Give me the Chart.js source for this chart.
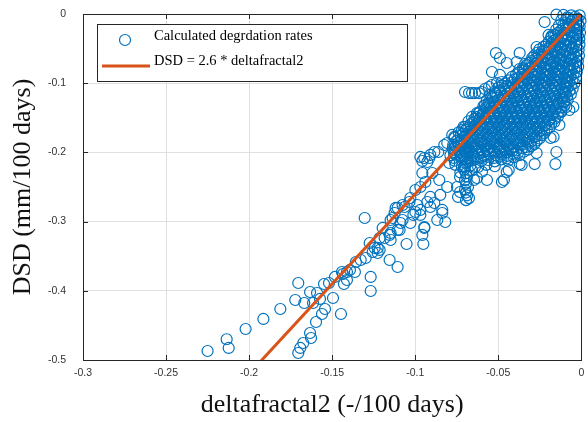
<!DOCTYPE html>
<html>
<head>
<meta charset="utf-8">
<title>DSD vs deltafractal2</title>
<script src="https://cdn.jsdelivr.net/npm/chart.js@4/dist/chart.umd.min.js"></script>
<style>
  html, body { margin: 0; padding: 0; background: #fff; }
  canvas { display: block; }
</style>
</head>
<body>
<canvas id="rateChart" width="588" height="422"></canvas>
<script>
// Axis ticks
const xTicks = [-0.3, -0.25, -0.2, -0.15, -0.1, -0.05, 0];
const xTickLabels = ['-0.3', '-0.25', '-0.2', '-0.15', '-0.1', '-0.05', '0'];
const yTicks = [-0.5, -0.4, -0.3, -0.2, -0.1, 0];
const yTickLabels = ['-0.5', '-0.4', '-0.3', '-0.2', '-0.1', '0'];

// Fitted relation DSD = 2.6 * deltafractal2
const fitSlope = 2.6;
const fitRange = [-0.3, 0];

// Calculated degradation rates [deltafractal2, DSD]
// dense cloud close to the origin
const coreRates = [
  [-0.001,-0.002],[-0.0035,-0.004],[-0.006,-0.002],[-0.0085,-0.005],
  [-0.0005,-0.010],[-0.003,-0.012],[-0.0062,-0.011],[-0.0094,-0.013],[-0.012,-0.009],
  [-0.001,-0.018],[-0.0042,-0.020],[-0.0076,-0.019],[-0.0108,-0.021],[-0.0135,-0.017],
  [-0.0008,-0.027],[-0.0036,-0.029],[-0.0069,-0.026],[-0.0103,-0.028],[-0.0139,-0.027],[-0.0166,-0.030],
  [-0.0012,-0.036],[-0.0047,-0.034],[-0.0081,-0.037],[-0.0114,-0.035],[-0.0149,-0.036],[-0.0181,-0.034],
  [-0.0011,-0.044],[-0.0039,-0.042],[-0.0074,-0.045],[-0.0108,-0.043],[-0.0143,-0.044],[-0.0178,-0.042],[-0.0212,-0.045],
  [-0.0016,-0.052],[-0.0051,-0.050],[-0.0086,-0.053],[-0.0121,-0.051],[-0.0154,-0.052],[-0.0191,-0.050],[-0.0224,-0.053],[-0.0252,-0.051],
  [-0.0014,-0.060],[-0.0046,-0.058],[-0.0079,-0.061],[-0.0116,-0.059],[-0.0151,-0.060],[-0.0184,-0.058],[-0.0221,-0.061],[-0.0254,-0.059],[-0.0283,-0.060],
  [-0.0021,-0.068],[-0.0054,-0.066],[-0.0092,-0.069],[-0.0124,-0.067],[-0.0162,-0.068],[-0.0194,-0.066],[-0.0232,-0.069],[-0.0263,-0.067],[-0.0301,-0.068],
  [-0.0019,-0.076],[-0.0052,-0.074],[-0.0086,-0.077],[-0.0121,-0.075],[-0.0156,-0.076],[-0.0188,-0.074],[-0.0226,-0.077],[-0.0258,-0.075],[-0.0296,-0.076],[-0.0328,-0.074],[-0.0352,-0.078],
  [-0.0028,-0.084],[-0.0061,-0.082],[-0.0096,-0.085],[-0.0131,-0.083],[-0.0164,-0.084],[-0.0201,-0.082],[-0.0233,-0.085],[-0.0271,-0.083],[-0.0304,-0.084],[-0.0342,-0.082],[-0.0378,-0.085],
  [-0.0032,-0.092],[-0.0066,-0.090],[-0.0099,-0.093],[-0.0136,-0.091],[-0.0171,-0.092],[-0.0204,-0.090],[-0.0241,-0.093],[-0.0274,-0.091],[-0.0311,-0.092],[-0.0344,-0.090],[-0.0382,-0.093],[-0.0418,-0.091],
  [-0.0041,-0.100],[-0.0072,-0.098],[-0.0106,-0.101],[-0.0142,-0.099],[-0.0174,-0.100],[-0.0211,-0.098],[-0.0246,-0.101],[-0.0279,-0.099],[-0.0316,-0.100],[-0.0349,-0.098],[-0.0386,-0.101],[-0.0421,-0.099],[-0.0458,-0.100],
  [-0.0052,-0.108],[-0.0083,-0.106],[-0.0117,-0.109],[-0.0151,-0.107],[-0.0186,-0.108],[-0.0219,-0.106],[-0.0256,-0.109],[-0.0288,-0.107],[-0.0326,-0.108],[-0.0359,-0.106],[-0.0396,-0.109],[-0.0429,-0.107],[-0.0466,-0.108],[-0.0498,-0.106],
  [-0.0063,-0.116],[-0.0094,-0.114],[-0.0131,-0.117],[-0.0164,-0.115],[-0.0201,-0.116],[-0.0233,-0.114],[-0.0271,-0.117],[-0.0304,-0.115],[-0.0341,-0.116],[-0.0373,-0.114],[-0.0411,-0.117],[-0.0443,-0.115],[-0.0481,-0.116],[-0.0516,-0.114],[-0.0549,-0.117],
  [-0.0082,-0.124],[-0.0114,-0.122],[-0.0151,-0.125],[-0.0184,-0.123],[-0.0221,-0.124],[-0.0253,-0.122],[-0.0291,-0.125],[-0.0324,-0.123],[-0.0361,-0.124],[-0.0393,-0.122],[-0.0431,-0.125],[-0.0463,-0.123],[-0.0501,-0.124],[-0.0533,-0.122],[-0.0569,-0.125],
  [-0.0101,-0.132],[-0.0136,-0.130],[-0.0169,-0.133],[-0.0206,-0.131],[-0.0238,-0.132],[-0.0276,-0.130],[-0.0309,-0.133],[-0.0346,-0.131],[-0.0378,-0.132],[-0.0416,-0.130],[-0.0449,-0.133],[-0.0486,-0.131],[-0.0518,-0.132],[-0.0556,-0.130],[-0.0589,-0.133],
  [-0.0121,-0.140],[-0.0154,-0.138],[-0.0191,-0.141],[-0.0224,-0.139],[-0.0261,-0.140],[-0.0293,-0.138],[-0.0331,-0.141],[-0.0364,-0.139],[-0.0401,-0.140],[-0.0433,-0.138],[-0.0471,-0.141],[-0.0504,-0.139],[-0.0541,-0.140],[-0.0573,-0.138],[-0.0609,-0.141],
  [-0.0141,-0.148],[-0.0174,-0.146],[-0.0211,-0.149],[-0.0243,-0.147],[-0.0281,-0.148],[-0.0314,-0.146],[-0.0351,-0.149],[-0.0383,-0.147],[-0.0421,-0.148],[-0.0454,-0.146],[-0.0491,-0.149],[-0.0523,-0.147],[-0.0561,-0.148],[-0.0594,-0.146],[-0.0631,-0.149],
  [-0.0162,-0.156],[-0.0196,-0.154],[-0.0232,-0.157],[-0.0266,-0.155],[-0.0301,-0.156],[-0.0336,-0.154],[-0.0371,-0.157],[-0.0404,-0.155],[-0.0441,-0.156],[-0.0474,-0.154],[-0.0511,-0.157],[-0.0544,-0.155],[-0.0581,-0.156],[-0.0614,-0.154],[-0.0651,-0.157],[-0.0679,-0.155],
  [-0.0191,-0.164],[-0.0224,-0.162],[-0.0261,-0.165],[-0.0294,-0.163],[-0.0331,-0.164],[-0.0364,-0.162],[-0.0401,-0.165],[-0.0434,-0.163],[-0.0471,-0.164],[-0.0504,-0.162],[-0.0541,-0.165],[-0.0574,-0.163],[-0.0611,-0.164],[-0.0644,-0.162],[-0.0681,-0.165],[-0.0709,-0.163],
  [-0.0221,-0.172],[-0.0254,-0.170],[-0.0291,-0.173],[-0.0324,-0.171],[-0.0361,-0.172],[-0.0394,-0.170],[-0.0431,-0.173],[-0.0464,-0.171],[-0.0501,-0.172],[-0.0534,-0.170],[-0.0571,-0.173],[-0.0604,-0.171],[-0.0641,-0.172],[-0.0674,-0.170],[-0.0711,-0.173],[-0.0738,-0.171],
  [-0.0251,-0.180],[-0.0284,-0.178],[-0.0321,-0.181],[-0.0354,-0.179],[-0.0391,-0.180],[-0.0424,-0.178],[-0.0461,-0.181],[-0.0494,-0.179],[-0.0531,-0.180],[-0.0564,-0.178],[-0.0601,-0.181],[-0.0634,-0.179],[-0.0671,-0.180],[-0.0704,-0.178],[-0.0741,-0.181],[-0.0762,-0.179],
  [-0.0282,-0.188],[-0.0318,-0.186],[-0.0354,-0.189],[-0.0389,-0.187],[-0.0424,-0.188],[-0.0459,-0.186],[-0.0494,-0.189],[-0.0529,-0.187],[-0.0564,-0.188],[-0.0599,-0.186],[-0.0634,-0.189],[-0.0669,-0.187],[-0.0704,-0.188],[-0.0739,-0.186],[-0.0771,-0.189],
  [-0.0321,-0.196],[-0.0356,-0.194],[-0.0391,-0.197],[-0.0426,-0.195],[-0.0461,-0.196],[-0.0496,-0.194],[-0.0531,-0.197],[-0.0566,-0.195],[-0.0601,-0.196],[-0.0636,-0.194],[-0.0671,-0.197],[-0.0706,-0.195],[-0.0741,-0.196],[-0.0774,-0.194],
  [-0.0372,-0.204],[-0.0409,-0.202],[-0.0446,-0.205],[-0.0481,-0.203],[-0.0516,-0.204],[-0.0551,-0.202],[-0.0586,-0.205],[-0.0621,-0.203],[-0.0656,-0.204],[-0.0691,-0.202],[-0.0726,-0.205],[-0.0761,-0.203],[-0.0788,-0.204],
  [-0.0441,-0.212],[-0.0481,-0.210],[-0.0521,-0.213],[-0.0561,-0.211],[-0.0601,-0.212],[-0.0641,-0.210],[-0.0681,-0.213],[-0.0721,-0.211],[-0.0762,-0.212],
  [-0.0521,-0.220],[-0.0572,-0.218],[-0.0621,-0.221],[-0.0668,-0.219],[-0.0719,-0.220],[-0.0758,-0.218],
  [-0.0598,-0.228],[-0.0658,-0.226],[-0.0728,-0.229]
];

// more of the same cloud, sitting between the rows above
const coreRatesB = [
  [-0.0022,-0.007],[-0.0051,-0.0085],[-0.0078,-0.006],
  [-0.0018,-0.015],[-0.0047,-0.0165],[-0.0079,-0.014],[-0.0108,-0.016],
  [-0.0024,-0.023],[-0.0058,-0.0245],[-0.0091,-0.022],[-0.0122,-0.024],[-0.0151,-0.0225],
  [-0.0021,-0.031],[-0.0053,-0.0325],[-0.0087,-0.030],[-0.0121,-0.032],[-0.0156,-0.0305],[-0.0179,-0.032],
  [-0.0027,-0.039],[-0.0062,-0.0405],[-0.0096,-0.038],[-0.0131,-0.040],[-0.0164,-0.0385],[-0.0196,-0.040],
  [-0.0029,-0.047],[-0.0058,-0.0485],[-0.0093,-0.046],[-0.0126,-0.048],[-0.0161,-0.0465],[-0.0194,-0.048],[-0.0228,-0.0475],
  [-0.0031,-0.055],[-0.0064,-0.0565],[-0.0098,-0.054],[-0.0133,-0.056],[-0.0168,-0.0545],[-0.0203,-0.056],[-0.0237,-0.0545],[-0.0266,-0.056],
  [-0.0032,-0.063],[-0.0063,-0.0645],[-0.0097,-0.062],[-0.0133,-0.064],[-0.0169,-0.0625],[-0.0203,-0.064],[-0.0238,-0.0625],[-0.0271,-0.064],[-0.0296,-0.0635],
  [-0.0036,-0.071],[-0.0069,-0.0725],[-0.0104,-0.070],[-0.0139,-0.072],[-0.0173,-0.0705],[-0.0209,-0.072],[-0.0243,-0.0705],[-0.0278,-0.072],[-0.0312,-0.0705],[-0.0338,-0.072],
  [-0.0041,-0.079],[-0.0072,-0.0805],[-0.0106,-0.078],[-0.0142,-0.080],[-0.0176,-0.0785],[-0.0211,-0.080],[-0.0246,-0.0785],[-0.0281,-0.080],[-0.0316,-0.0785],[-0.0349,-0.080],[-0.0372,-0.0795],
  [-0.0047,-0.087],[-0.0081,-0.0885],[-0.0114,-0.086],[-0.0149,-0.088],[-0.0184,-0.0865],[-0.0219,-0.088],[-0.0254,-0.0865],[-0.0288,-0.088],[-0.0323,-0.0865],[-0.0358,-0.088],[-0.0393,-0.0875],
  [-0.0053,-0.095],[-0.0086,-0.0965],[-0.0121,-0.094],[-0.0156,-0.096],[-0.0189,-0.0945],[-0.0224,-0.096],[-0.0259,-0.0945],[-0.0294,-0.096],[-0.0329,-0.0945],[-0.0364,-0.096],[-0.0401,-0.0945],[-0.0437,-0.096],
  [-0.0062,-0.103],[-0.0094,-0.1045],[-0.0128,-0.102],[-0.0163,-0.104],[-0.0197,-0.1025],[-0.0233,-0.104],[-0.0268,-0.1025],[-0.0302,-0.104],[-0.0337,-0.1025],[-0.0372,-0.104],[-0.0408,-0.1025],[-0.0443,-0.104],[-0.0476,-0.1035],
  [-0.0071,-0.111],[-0.0106,-0.1125],[-0.0141,-0.110],[-0.0176,-0.112],[-0.0211,-0.1105],[-0.0246,-0.112],[-0.0281,-0.1105],[-0.0316,-0.112],[-0.0351,-0.1105],[-0.0386,-0.112],[-0.0421,-0.1105],[-0.0456,-0.112],[-0.0491,-0.1105],[-0.0522,-0.112],
  [-0.0086,-0.119],[-0.0121,-0.1205],[-0.0156,-0.118],[-0.0191,-0.120],[-0.0226,-0.1185],[-0.0261,-0.120],[-0.0296,-0.1185],[-0.0331,-0.120],[-0.0366,-0.1185],[-0.0401,-0.120],[-0.0436,-0.1185],[-0.0471,-0.120],[-0.0506,-0.1185],[-0.0541,-0.120],
  [-0.0104,-0.127],[-0.0139,-0.1285],[-0.0174,-0.126],[-0.0209,-0.128],[-0.0244,-0.1265],[-0.0279,-0.128],[-0.0314,-0.1265],[-0.0349,-0.128],[-0.0384,-0.1265],[-0.0419,-0.128],[-0.0454,-0.1265],[-0.0489,-0.128],[-0.0524,-0.1265],[-0.0558,-0.128],
  [-0.0121,-0.135],[-0.0156,-0.1365],[-0.0191,-0.134],[-0.0226,-0.136],[-0.0261,-0.1345],[-0.0296,-0.136],[-0.0331,-0.1345],[-0.0366,-0.136],[-0.0401,-0.1345],[-0.0436,-0.136],[-0.0471,-0.1345],[-0.0506,-0.136],[-0.0541,-0.1345],[-0.0576,-0.136],
  [-0.0138,-0.143],[-0.0173,-0.1445],[-0.0208,-0.142],[-0.0243,-0.144],[-0.0278,-0.1425],[-0.0313,-0.144],[-0.0348,-0.1425],[-0.0383,-0.144],[-0.0418,-0.1425],[-0.0453,-0.144],[-0.0488,-0.1425],[-0.0523,-0.144],[-0.0558,-0.1425],[-0.0593,-0.144],[-0.0618,-0.1435],
  [-0.0158,-0.151],[-0.0193,-0.1525],[-0.0228,-0.150],[-0.0263,-0.152],[-0.0298,-0.1505],[-0.0333,-0.152],[-0.0368,-0.1505],[-0.0403,-0.152],[-0.0438,-0.1505],[-0.0473,-0.152],[-0.0508,-0.1505],[-0.0543,-0.152],[-0.0578,-0.1505],[-0.0613,-0.152],[-0.0643,-0.1515],
  [-0.0181,-0.159],[-0.0216,-0.1605],[-0.0251,-0.158],[-0.0286,-0.160],[-0.0321,-0.1585],[-0.0356,-0.160],[-0.0391,-0.1585],[-0.0426,-0.160],[-0.0461,-0.1585],[-0.0496,-0.160],[-0.0531,-0.1585],[-0.0566,-0.160],[-0.0601,-0.1585],[-0.0636,-0.160],[-0.0668,-0.1595],
  [-0.0208,-0.167],[-0.0243,-0.1685],[-0.0278,-0.166],[-0.0313,-0.168],[-0.0348,-0.1665],[-0.0383,-0.168],[-0.0418,-0.1665],[-0.0453,-0.168],[-0.0488,-0.1665],[-0.0523,-0.168],[-0.0558,-0.1665],[-0.0593,-0.168],[-0.0628,-0.1665],[-0.0663,-0.168],[-0.0696,-0.1675],
  [-0.0238,-0.175],[-0.0273,-0.1765],[-0.0308,-0.174],[-0.0343,-0.176],[-0.0378,-0.1745],[-0.0413,-0.176],[-0.0448,-0.1745],[-0.0483,-0.176],[-0.0518,-0.1745],[-0.0553,-0.176],[-0.0588,-0.1745],[-0.0623,-0.176],[-0.0658,-0.1745],[-0.0693,-0.176],[-0.0726,-0.1755],
  [-0.0268,-0.183],[-0.0303,-0.1845],[-0.0338,-0.182],[-0.0373,-0.184],[-0.0408,-0.1825],[-0.0443,-0.184],[-0.0478,-0.1825],[-0.0513,-0.184],[-0.0548,-0.1825],[-0.0583,-0.184],[-0.0618,-0.1825],[-0.0653,-0.184],[-0.0688,-0.1825],[-0.0723,-0.184],[-0.0752,-0.1835],
  [-0.0302,-0.191],[-0.0337,-0.1925],[-0.0372,-0.190],[-0.0407,-0.192],[-0.0442,-0.1905],[-0.0477,-0.192],[-0.0512,-0.1905],[-0.0547,-0.192],[-0.0582,-0.1905],[-0.0617,-0.192],[-0.0652,-0.1905],[-0.0687,-0.192],[-0.0722,-0.1905],[-0.0756,-0.192],
  [-0.0346,-0.199],[-0.0381,-0.2005],[-0.0416,-0.198],[-0.0451,-0.200],[-0.0486,-0.1985],[-0.0521,-0.200],[-0.0556,-0.1985],[-0.0591,-0.200],[-0.0626,-0.1985],[-0.0661,-0.200],[-0.0696,-0.1985],[-0.0731,-0.200],[-0.0766,-0.1995],
  [-0.0406,-0.207],[-0.0446,-0.2085],[-0.0486,-0.206],[-0.0526,-0.208],[-0.0566,-0.2065],[-0.0606,-0.208],[-0.0646,-0.2065],[-0.0686,-0.208],[-0.0726,-0.2065],[-0.0768,-0.208]
];

// stray points above the fitted line
const armRates = [
  [-0.070,-0.1127],[-0.0676,-0.1142],[-0.0658,-0.1142],[-0.064,-0.1142],[-0.0616,-0.1142],
  [-0.0598,-0.1127],[-0.058,-0.1084],[-0.0556,-0.1055],[-0.0538,-0.1026],[-0.0508,-0.0997],
  [-0.0969,-0.2066],[-0.0945,-0.2081],[-0.0915,-0.2081],[-0.0909,-0.2037],[-0.0885,-0.1994],
  [-0.0957,-0.2124],[-0.0927,-0.2139],[-0.0861,-0.1994],
  [-0.0807,-0.1864],[-0.0777,-0.1748],[-0.0718,-0.1676],[-0.070,-0.1633],[-0.0658,-0.1488],
  [-0.0586,-0.1431],[-0.0628,-0.1431],[-0.058,-0.1315],[-0.055,-0.1315],
  [-0.0514,-0.0564],[-0.049,-0.0636],[-0.0449,-0.0708],[-0.0389,-0.0694],[-0.0371,-0.0564],
  [-0.0269,-0.0477],[-0.0221,-0.0116],[-0.0197,-0.0303],[-0.015,-0.001],[-0.0108,-0.0014],
  [-0.049,-0.0881],[-0.0538,-0.0838],[-0.0478,-0.0983]
];

// narrow vertical run near deltafractal2 = -0.07
const columnRates = [
  [-0.0694,-0.190],[-0.0700,-0.195],[-0.0688,-0.200],[-0.0706,-0.205],[-0.0694,-0.210],
  [-0.0688,-0.215],[-0.0700,-0.220],[-0.0706,-0.225],[-0.0694,-0.230],[-0.0688,-0.235],
  [-0.0700,-0.240],[-0.0694,-0.245],[-0.0682,-0.250],[-0.0700,-0.254],[-0.0694,-0.258],
  [-0.0688,-0.262],[-0.0676,-0.266],[-0.0694,-0.269]
];

// points below the cloud on the right-hand side
const edgeRates = [
  [-0.015,-0.1994],[-0.0156,-0.2168],[-0.0281,-0.2168],[-0.0371,-0.2168],[-0.0449,-0.2283],
  [-0.0269,-0.2009],[-0.0132,-0.1604],[-0.012,-0.1416],[-0.009,-0.1344],[-0.0072,-0.1387],
  [-0.0167,-0.1777],[-0.0185,-0.1792],[-0.0102,-0.1214],[-0.009,-0.0997],[-0.0359,-0.2182],
  [-0.0437,-0.2254],[-0.0466,-0.2399],[-0.0628,-0.237],[-0.0048,-0.1344]
];

// sparse tail towards the lower left
const tailRates = [
  [-0.225,-0.487],[-0.2135,-0.470],[-0.2123,-0.4826],[-0.2021,-0.4552],[-0.1914,-0.4407],
  [-0.1812,-0.4263],[-0.1704,-0.3887],[-0.1722,-0.4133],[-0.1668,-0.4176],[-0.1633,-0.4017],
  [-0.1591,-0.4032],[-0.1615,-0.4176],[-0.1573,-0.4118],[-0.1549,-0.3902],[-0.1519,-0.3887],
  [-0.1483,-0.380],[-0.1435,-0.3757],[-0.1495,-0.4104],[-0.1429,-0.3902],[-0.1411,-0.3844],
  [-0.1447,-0.4335],[-0.1543,-0.4263],[-0.1561,-0.4335],[-0.1597,-0.4451],[-0.1633,-0.461],
  [-0.1627,-0.4682],[-0.1674,-0.4754],[-0.1692,-0.4826],[-0.1704,-0.4899],
  [-0.1441,-0.3728],[-0.1411,-0.3728],[-0.1363,-0.3728],[-0.1357,-0.3584],[-0.1328,-0.3555],
  [-0.1298,-0.3526],[-0.1268,-0.380],[-0.1268,-0.4003],[-0.1393,-0.3699],
  [-0.1304,-0.2948],[-0.1274,-0.3309],[-0.1244,-0.3381],[-0.1214,-0.341],[-0.1226,-0.3454],
  [-0.1196,-0.3092],[-0.1184,-0.3237],[-0.1154,-0.3193],[-0.1148,-0.3266],[-0.1154,-0.3555],
  [-0.1106,-0.3656],[-0.1094,-0.3121],[-0.1088,-0.302],[-0.1118,-0.2803],[-0.1064,-0.2789],
  [-0.1052,-0.3324],[-0.1029,-0.302],[-0.1011,-0.2904],[-0.0987,-0.276],[-0.0969,-0.2904],
  [-0.0945,-0.3092],[-0.0951,-0.3324],[-0.0909,-0.2789],[-0.0837,-0.2876],[-0.0819,-0.3006],
  [-0.1214,-0.3237],[-0.1136,-0.2948],[-0.1106,-0.2803],[-0.0957,-0.3193],[-0.1106,-0.3121],
  [-0.1148,-0.3165],[-0.1226,-0.3381],[-0.1256,-0.3439],
  [-0.0825,-0.1893],[-0.0765,-0.1777],[-0.0736,-0.1907],[-0.0765,-0.2009],[-0.0795,-0.2153],
  [-0.0855,-0.2399],[-0.0897,-0.2298],[-0.0957,-0.2298],[-0.0939,-0.2428],[-0.0969,-0.250],
  [-0.0999,-0.2543],[-0.1029,-0.2659],[-0.1035,-0.2717],[-0.1076,-0.276],[-0.1124,-0.2876],
  [-0.1148,-0.2977],[-0.0969,-0.2832],[-0.0927,-0.2717],[-0.0885,-0.2731],[-0.0909,-0.2644],
  [-0.0849,-0.2615],[-0.0807,-0.250],[-0.0837,-0.2832],[-0.0945,-0.3078],[-0.1076,-0.2977],
  [-0.0867,-0.2977],[-0.0999,-0.2861],[-0.0748,-0.250],[-0.073,-0.2572],[-0.0646,-0.2399],
  [-0.064,-0.2211],[-0.0568,-0.2399],[-0.0478,-0.2428],[-0.0616,-0.2009],[-0.0706,-0.2211],
  [-0.073,-0.2355],[-0.0742,-0.2644]
];

const blue = '#0072BD';
const orange = '#D95319';
const axisColor = '#262626';
const serif = "'Liberation Serif', 'Times New Roman', serif";
const sans = "'Liberation Sans', Arial, sans-serif";

const allRates = [...coreRates, ...coreRatesB, ...armRates, ...columnRates, ...edgeRates, ...tailRates]
  .map(([x, y]) => ({ x: x, y: y }));
const fitLine = fitRange.map(x => ({ x: x, y: fitSlope * x }));

// box around the axes with inward tick marks on all four sides
const axesBox = {
  id: 'axesBox',
  afterDraw(chart) {
    const { ctx, chartArea: a, scales } = chart;
    const len = 5;
    ctx.save();
    ctx.strokeStyle = axisColor;
    ctx.lineWidth = 1;
    ctx.beginPath();
    scales.x.ticks.forEach(t => {
      const px = Math.round(scales.x.getPixelForValue(t.value)) + 0.5;
      ctx.moveTo(px, a.bottom); ctx.lineTo(px, a.bottom - len);
      ctx.moveTo(px, a.top); ctx.lineTo(px, a.top + len);
    });
    scales.y.ticks.forEach(t => {
      const py = Math.round(scales.y.getPixelForValue(t.value)) + 0.5;
      ctx.moveTo(a.left, py); ctx.lineTo(a.left + len, py);
      ctx.moveTo(a.right, py); ctx.lineTo(a.right - len, py);
    });
    ctx.stroke();
    ctx.strokeRect(Math.round(a.left) + 0.5, Math.round(a.top) + 0.5,
      Math.round(a.right - a.left), Math.round(a.bottom - a.top));
    ctx.restore();
  }
};

// legend box in the upper left corner of the axes
const boxLegend = {
  id: 'boxLegend',
  afterDraw(chart) {
    const ctx = chart.ctx;
    const [fitSet, rateSet] = chart.data.datasets;
    ctx.save();
    ctx.fillStyle = '#fff';
    ctx.fillRect(97, 24, 310, 57);
    ctx.strokeStyle = axisColor;
    ctx.lineWidth = 1;
    ctx.strokeRect(97.5, 24.5, 310, 57);

    ctx.strokeStyle = blue;
    ctx.lineWidth = 1.2;
    ctx.beginPath();
    ctx.arc(125, 40, 5.5, 0, Math.PI * 2);
    ctx.stroke();

    ctx.strokeStyle = orange;
    ctx.lineWidth = 3;
    ctx.beginPath();
    ctx.moveTo(102, 66);
    ctx.lineTo(150, 66);
    ctx.stroke();

    ctx.fillStyle = '#000';
    ctx.font = '14.5px ' + serif;
    ctx.textBaseline = 'middle';
    ctx.fillText(rateSet.label, 154, 36);
    ctx.fillText(fitSet.label, 154, 61);
    ctx.restore();
  }
};

// keep the plot area where the layout padding puts it
const noEdgePadding = s => {
  s.paddingLeft = 0; s.paddingRight = 0; s.paddingTop = 0; s.paddingBottom = 0;
};

const ctx = document.getElementById('rateChart').getContext('2d');
const chart = new Chart(ctx, {
  type: 'scatter',
  data: {
    datasets: [{
      label: 'DSD = 2.6 * deltafractal2',
      data: fitLine,
      showLine: true,
      borderColor: orange,
      borderWidth: 3,
      pointRadius: 0,
      clip: 0,
      order: 0
    }, {
      label: 'Calculated degrdation rates',
      data: allRates,
      pointStyle: 'circle',
      pointRadius: 5.5,
      borderWidth: 1.2,
      borderColor: blue,
      backgroundColor: 'rgba(0,0,0,0)',
      clip: false,
      order: 1
    }]
  },
  options: {
    responsive: false,
    animation: false,
    layout: { padding: { top: 14, right: 3, left: 0, bottom: 0 } },
    plugins: {
      legend: { display: false },
      tooltip: { enabled: false }
    },
    scales: {
      x: {
        type: 'linear',
        min: -0.3,
        max: 0,
        afterFit: s => { s.height = 62; noEdgePadding(s); },
        afterBuildTicks: s => { s.ticks = xTicks.map(v => ({ value: v })); },
        ticks: {
          callback: (v, i) => xTickLabels[i],
          color: '#333',
          font: { family: sans, size: 10.5 },
          padding: 7,
          maxRotation: 0
        },
        grid: { color: '#dfdfdf', drawTicks: false },
        border: { color: axisColor },
        title: {
          display: true,
          text: 'deltafractal2 (-/100 days)',
          color: '#111',
          font: { family: serif, size: 26 },
          padding: { top: 0, bottom: 1 }
        }
      },
      y: {
        type: 'linear',
        min: -0.5,
        max: 0,
        afterFit: s => { s.width = 83; noEdgePadding(s); },
        afterBuildTicks: s => { s.ticks = yTicks.map(v => ({ value: v })); },
        ticks: {
          callback: (v, i) => yTickLabels[i],
          color: '#333',
          font: { family: sans, size: 10.5 },
          padding: 17
        },
        grid: { color: '#dfdfdf', drawTicks: false },
        border: { color: axisColor },
        title: {
          display: true,
          text: 'DSD (mm/100 days)',
          color: '#111',
          font: { family: serif, size: 26 },
          padding: { top: 8, bottom: 0 }
        }
      }
    }
  },
  plugins: [axesBox, boxLegend]
});
</script>
</body>
</html>
